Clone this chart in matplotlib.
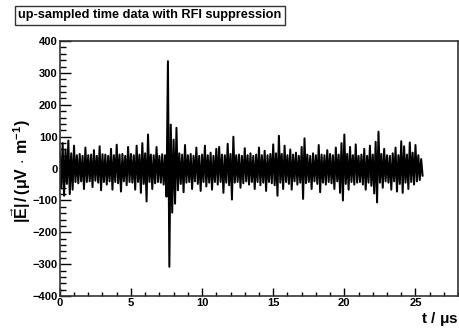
import numpy as np
import matplotlib
matplotlib.use("Agg")
import matplotlib.pyplot as plt
from matplotlib.ticker import MultipleLocator

dt = 0.2
upper_peaks = [52, 80, 60, 88, 48, 72,
               42, 46, 40, 66, 42, 44, 58, 40, 70, 45,
               44, 40, 62, 42, 75, 44, 46, 40, 68, 46,
               42, 72, 44, 80, 48, 107, 44, 42, 68, 40,
               45, 42,
               337,
               138, 91, 128, 48, 44, 74, 42,
               46, 40, 66, 40, 44, 72, 42, 50, 40, 62,
               68, 44, 42, 78, 46, 100, 42, 44, 40, 64,
               42, 48, 40, 44, 66, 42, 56, 42, 46, 76,
               48, 103, 46, 72, 42, 60, 44, 50, 40, 68,
               95, 44, 40, 48, 42, 74, 44, 42, 58, 46,
               42, 66, 44, 80, 107, 46, 68, 42, 76, 40,
               44, 62, 40, 72, 44, 84, 116, 46, 62, 42,
               40, 48, 66, 42, 86, 70, 44, 82, 50, 74,
               42, 30]
lower_peaks = [-62, -85, -48, -80, -66,
               -42, -46, -40, -64, -42, -40, -58, -38, -44, -68,
               -42, -50, -40, -66, -42, -46, -72, -40, -52, -42,
               -44, -66, -42, -76, -48, -103, -42, -64, -46, -42,
               -44, -50, -88,
               -308,
               -138, -110, -68, -48, -74, -44,
               -42, -64, -40, -48, -70, -42, -56, -44, -66, -42,
               -50, -42, -76, -44, -52, -97, -44, -42, -60, -46,
               -40, -50, -42, -64, -42, -52, -44, -70, -42, -46,
               -52, -85, -44, -64, -42, -48, -66, -40, -50, -44,
               -95, -46, -42, -64, -40, -48, -74, -44, -50, -42,
               -46, -64, -40, -76, -100, -48, -66, -42, -50, -44,
               -42, -50, -66, -44, -54, -78, -106, -44, -60, -40,
               -44, -66, -40, -72, -48, -76, -44, -64, -42, -50,
               -40, -36, -22]

title = "up-sampled time data with RFI suppression"

plt.rcParams['font.family'] = ['Liberation Sans', 'DejaVu Sans']
plt.rcParams['font.weight'] = 'bold'
plt.rcParams['mathtext.fontset'] = 'custom'
plt.rcParams['mathtext.rm'] = 'Liberation Sans:bold'
plt.rcParams['mathtext.it'] = 'Liberation Sans:bold'
plt.rcParams['mathtext.bf'] = 'Liberation Sans:bold'
plt.rcParams['mathtext.default'] = 'bf'

# interleave positive and negative peaks into one trace
t_up = np.arange(len(upper_peaks)) * dt
t_lo = np.arange(len(lower_peaks)) * dt + dt / 2
t = np.empty(len(t_up) + len(t_lo))
y = np.empty_like(t)
t[0::2], t[1::2] = t_up, t_lo
y[0::2], y[1::2] = upper_peaks, lower_peaks

fig = plt.figure(figsize=(4.6, 3.29), dpi=100)
ax = fig.add_axes([0.130, 0.100, 0.866, 0.775])
ax.plot(t, y, color='black', lw=1.45)

ax.set_xlim(0, 28)
ax.set_ylim(-400, 400)
ax.xaxis.set_major_locator(MultipleLocator(5))
ax.xaxis.set_minor_locator(MultipleLocator(1))
ax.yaxis.set_major_locator(MultipleLocator(100))
ax.yaxis.set_minor_locator(MultipleLocator(20))
ax.tick_params(which='both', direction='in', width=1.0, labelsize=8, pad=1.5)
ax.tick_params(axis='y', which='major', length=8)
ax.tick_params(axis='y', which='minor', length=4.5)
ax.tick_params(axis='x', which='major', length=5.5)
ax.tick_params(axis='x', which='minor', length=3)
for s in ax.spines.values():
    s.set_linewidth(1.2)
    s.set_color('#333333')

ax.set_xlabel(r'$t\ /\ \mu s$', fontsize=11, fontweight='bold')
ax.xaxis.set_label_coords(1.0, -0.055)
ax.xaxis.label.set_horizontalalignment('right')
ax.set_ylabel(r'$|\vec{E}|\,/\,(\mu V\,\cdot\,m^{-1})$', fontsize=11.5, fontweight='bold')
ax.yaxis.set_label_coords(-0.068, 0.49)

fig.text(0.040, 0.953, title, fontsize=9.2, fontweight='bold', ha='left', va='center',
         bbox=dict(boxstyle='square,pad=0.25', fc='white', ec='#333333', lw=1.0))

fig.savefig('out.png', dpi=100)
